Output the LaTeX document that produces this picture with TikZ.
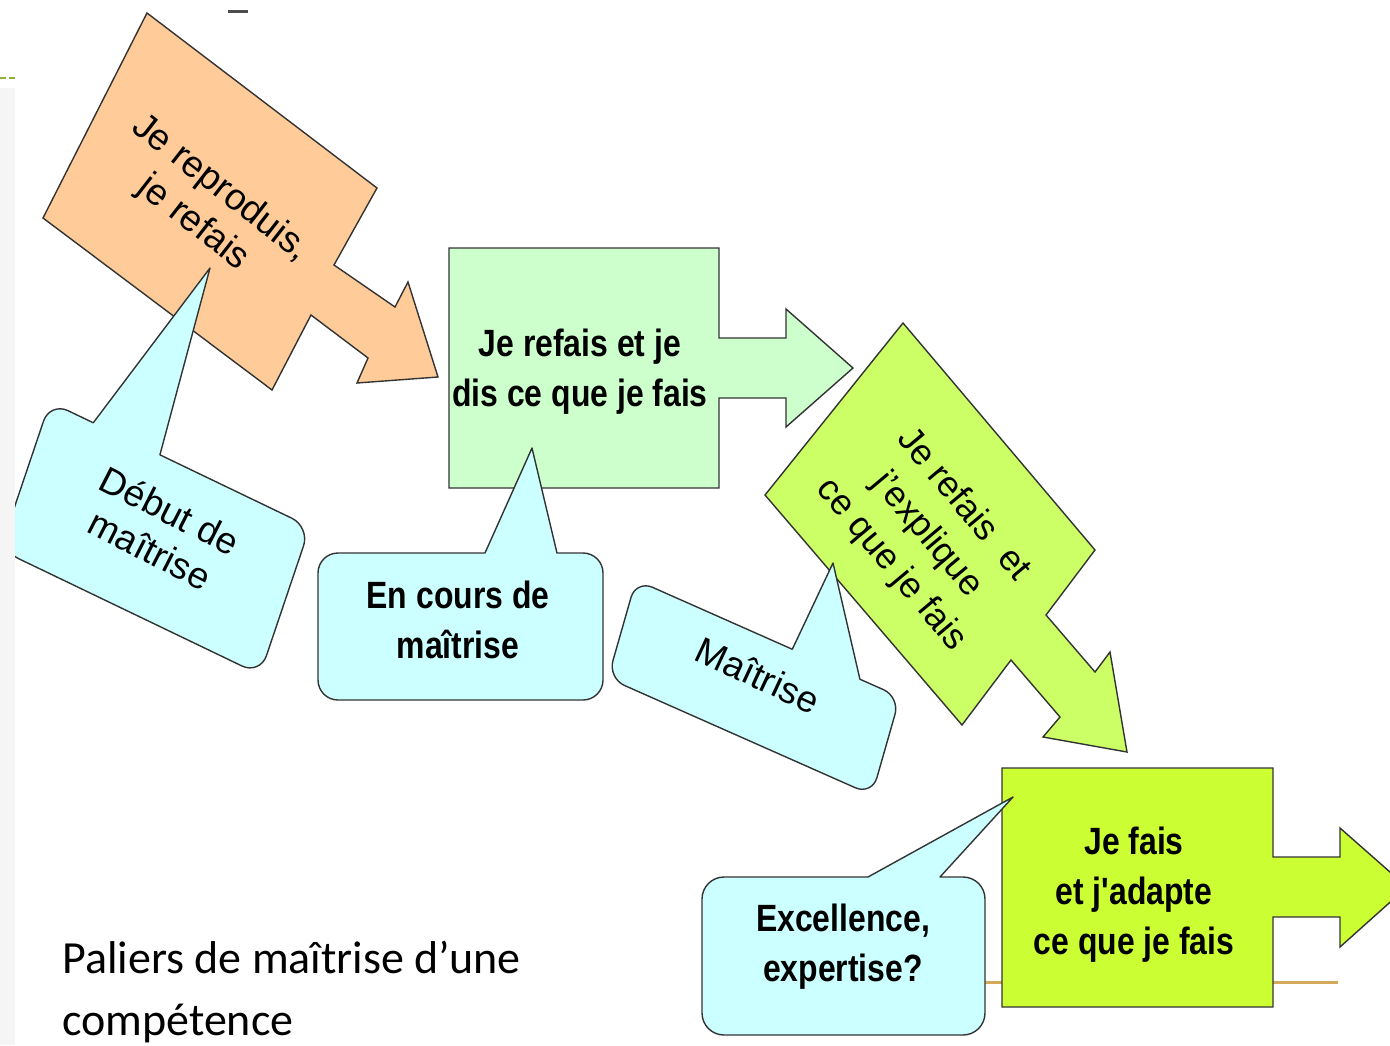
\documentclass[tikz,border=0pt]{standalone}
\usepackage{fontspec}
\setmainfont{Liberation Sans}
\newfontfamily\narrowfont[FakeStretch=0.84]{Liberation Sans}
\newfontfamily\titlefont{Carlito}
\definecolor{peach}{HTML}{FFCC99}
\definecolor{mint}{HTML}{CCFFCC}
\definecolor{limey}{HTML}{CCFF66}
\definecolor{limebright}{HTML}{CCFF33}
\definecolor{bubblefill}{HTML}{CCFFFF}
\definecolor{edgegray}{HTML}{333333}
\definecolor{tanline}{HTML}{D4A95A}
\definecolor{olivegreen}{HTML}{8CB33A}
\newcommand\bubblepath[6]{%
  \filldraw[bubble] (#4,0) -- ({#1-#6},0) arc[start angle=-90,end angle=0,radius=#6]
    -- (#1,{#2-#6}) arc[start angle=0,end angle=90,radius=#6]
    -- (#6,#2) arc[start angle=90,end angle=180,radius=#6]
    -- (0,#6) arc[start angle=180,end angle=270,radius=#6]
    -- (#3,0) -- (#5) -- cycle;}
\begin{document}
\begin{tikzpicture}[x=1pt,y=-1pt,
  shapeedge/.style={draw=edgegray, line width=1.4pt, line join=miter},
  bubble/.style={fill=bubblefill, draw=edgegray, line width=1.4pt, line join=round},
  rtext/.style={font=\fontsize{37}{44}\selectfont, align=center, inner sep=0pt},
  btext/.style={font=\narrowfont\bfseries\fontsize{38}{50}\selectfont, align=center, inner sep=0pt},
  ttext/.style={font=\titlefont\fontsize{46}{56}\selectfont, anchor=base west, inner sep=0pt}]
\useasboundingbox (0,0) rectangle (1390,1045);
\clip (0,0) rectangle (1390,1045);
\fill[white] (0,0) rectangle (1390,1045);

% named pointer tips
\coordinate (tipA) at (210,268);
\coordinate (tipB) at (532,448);
\coordinate (tipC) at (833,563);
\coordinate (tipD) at (1013,797);

% orange rotated arrow
\filldraw[shapeedge, fill=peach] (147,13) -- (377,188) -- (334,265) -- (395,307) -- (408,282)
  -- (438,377) -- (357,383) -- (368,358) -- (311,315) -- (272,390) -- (43,218) -- cycle;
\node[rtext, rotate=-38] (txtA) at (207,206) {Je reproduis,\\je refais};

% light green box with arrow
\filldraw[shapeedge, fill=mint] (449,248) -- (719,248) -- (719,338) -- (786,338) -- (786,309)
  -- (853,368) -- (786,427) -- (786,398) -- (719,398) -- (719,488) -- (449,488) -- cycle;
\node[btext] (txtB) at (580,372) {Je refais et je\\dis ce que je fais};

% lime rotated arrow
\filldraw[shapeedge, fill=limey] (903,323) -- (1095,550) -- (1046,615) -- (1095,672) -- (1110,652)
  -- (1127,752) -- (1043,737) -- (1060,717) -- (1011,660) -- (962,725) -- (765,495) -- cycle;
\node[rtext, font=\fontsize{36}{47}\selectfont, rotate=-50] (txtC) at (927,535) {Je refais\ \ et\\j'explique\\ce que je fais};

% tan line
\draw[tanline, line width=3pt] (960,982) -- (1338,982);

% final box with arrow
\filldraw[shapeedge, fill=limebright] (1002,768) -- (1273,768) -- (1273,857) -- (1340,857) -- (1340,828)
  -- (1407,887) -- (1340,947) -- (1340,917) -- (1273,917) -- (1273,1007) -- (1002,1007) -- cycle;
\node[btext] (txtD) at (1134,895) {Je fais\\et j'adapte\\ce que je fais};

% callouts
\begin{scope}[shift={(50,402)}, x={(0.901pt,-0.433pt)}, y={(-0.320pt,-0.947pt)}]
  \bubblepath{288.5}{156}{48}{122}{tipA}{20}
\end{scope}
\node[rtext, rotate=-27] (bA) at (160,530) {Début de\\maîtrise};

\begin{scope}[shift={(318,553)}]
  \bubblepath{285}{147}{167}{239}{tipB}{20}
\end{scope}
\node[btext] (bB) at (458,620) {En cours de\\maîtrise};

\begin{scope}[shift={(636,580)}, x={(0.914pt,-0.405pt)}, y={(-0.275pt,-0.962pt)}]
  \bubblepath{288.8}{102}{171}{245}{tipC}{18}
\end{scope}
\node[rtext, rotate=-25] (bC) at (758,675) {Maîtrise};

\begin{scope}[shift={(702,877)}]
  \bubblepath{283}{158}{166}{238}{tipD}{22}
\end{scope}
\node[btext] (bD) at (843,947) {Excellence,\\expertise?};

% title
\node[ttext] (title1) at (62,973) {Paliers de maîtrise d’une};
\node[ttext] (title2) at (62,1035) {compétence};

% left strip and small marks
\fill[gray!8] (0,88) rectangle (15,1045);
\draw[olivegreen, line width=1.5pt, dash pattern=on 6pt off 3pt] (0,78) -- (15,78);
\draw[black!70, line width=3pt] (228,11) -- (248,11);
\end{tikzpicture}
\end{document}
